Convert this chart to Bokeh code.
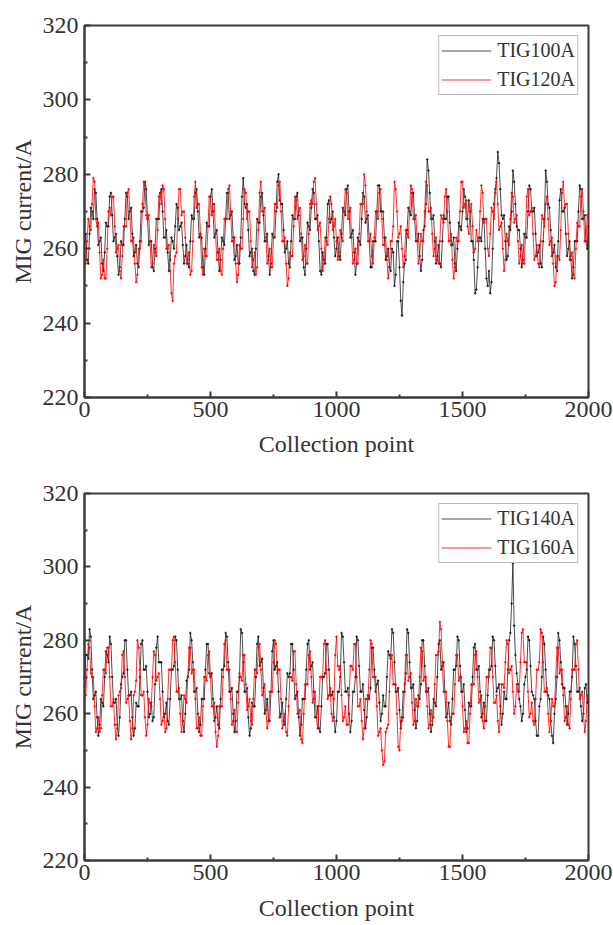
from bokeh.plotting import figure
from bokeh.layouts import column
from bokeh.models import Range1d, FixedTicker
from bokeh.embed import file_html
from bokeh.resources import INLINE

STEP = 5  # collection-point spacing of the values

x_ticks = [0, 500, 1000, 1500, 2000]
x_minor = [250, 750, 1250, 1750]
y_ticks = [220, 240, 260, 280, 300, 320]
y_minor = [230, 250, 270, 290, 310]

top_names = ["TIG100A", "TIG120A"]
bottom_names = ["TIG140A", "TIG160A"]

tig100 = [
    262, 264, 257, 256, 264, 271, 270, 268, 276, 275, 268, 261, 262, 263, 256, 254, 259, 267, 266, 266,
    274, 275, 269, 262, 263, 264, 258, 253, 255, 262, 261, 261, 268, 275, 274, 268, 270, 271, 264, 258,
    259, 261, 256, 255, 262, 270, 270, 271, 278, 276, 268, 261, 262, 262, 255, 254, 260, 268, 268, 268,
    275, 276, 270, 263, 263, 265, 259, 254, 257, 263, 262, 260, 266, 272, 271, 265, 266, 267, 261, 256,
    258, 261, 256, 255, 262, 269, 268, 268, 275, 276, 270, 263, 264, 263, 255, 253, 260, 267, 266, 266,
    274, 276, 270, 263, 264, 265, 259, 254, 257, 263, 262, 261, 268, 275, 275, 268, 269, 270, 263, 257,
    258, 261, 256, 256, 263, 274, 279, 272, 271, 272, 265, 258, 259, 260, 254, 253, 260, 268, 267, 267,
    274, 275, 269, 262, 262, 264, 258, 253, 256, 264, 263, 263, 270, 278, 280, 273, 272, 272, 265, 259,
    260, 262, 256, 255, 262, 269, 268, 268, 274, 275, 269, 262, 263, 263, 255, 253, 260, 267, 266, 265,
    271, 276, 275, 268, 268, 269, 262, 254, 253, 259, 257, 256, 263, 272, 273, 267, 268, 270, 263, 258,
    260, 263, 258, 257, 264, 271, 270, 269, 276, 277, 270, 263, 264, 265, 259, 253, 256, 263, 262, 261,
    268, 275, 274, 267, 268, 269, 262, 255, 255, 262, 262, 262, 270, 277, 277, 270, 270, 270, 263, 257,
    258, 260, 255, 254, 260, 259, 250, 253, 262, 262, 255, 246, 242, 251, 256, 257, 265, 271, 270, 269,
    275, 275, 268, 262, 262, 264, 258, 254, 257, 265, 266, 272, 284, 281, 275, 268, 268, 269, 262, 256,
    258, 261, 256, 255, 262, 269, 268, 268, 274, 274, 267, 261, 261, 263, 256, 254, 260, 267, 266, 265,
    270, 276, 274, 268, 268, 273, 270, 262, 262, 257, 248, 249, 255, 263, 263, 262, 268, 268, 260, 252,
    250, 254, 248, 251, 260, 272, 276, 279, 286, 283, 276, 269, 268, 269, 262, 257, 258, 266, 265, 270,
    281, 278, 272, 266, 265, 265, 260, 255, 257, 264, 263, 263, 270, 277, 276, 270, 270, 271, 264, 258,
    259, 261, 256, 255, 262, 268, 281, 278, 272, 271, 265, 258, 259, 261, 255, 254, 262, 273, 276, 270,
    270, 271, 264, 258, 260, 262, 257, 252, 255, 262, 262, 262, 270, 277, 276, 268, 268, 269, 262, 260,
    266,
]

tig120 = [
    258, 256, 262, 268, 266, 265, 272, 279, 278, 268, 266, 267, 259, 252, 253, 257, 252, 252, 260, 270,
    271, 269, 274, 274, 266, 259, 260, 261, 254, 252, 258, 266, 266, 266, 275, 276, 270, 262, 262, 263,
    256, 251, 253, 260, 260, 262, 272, 278, 277, 269, 268, 269, 262, 255, 256, 261, 259, 258, 265, 274,
    275, 272, 277, 276, 268, 260, 260, 261, 254, 248, 246, 256, 258, 259, 268, 276, 276, 269, 270, 270,
    263, 256, 257, 259, 253, 254, 262, 274, 278, 271, 272, 272, 264, 255, 253, 260, 258, 258, 266, 274,
    274, 269, 272, 272, 264, 257, 257, 260, 254, 253, 260, 268, 268, 268, 276, 277, 270, 262, 262, 263,
    256, 251, 253, 261, 260, 260, 268, 276, 275, 268, 270, 270, 262, 255, 257, 259, 253, 255, 265, 275,
    278, 270, 270, 271, 263, 256, 257, 260, 255, 255, 263, 272, 272, 271, 277, 278, 270, 262, 262, 263,
    256, 250, 252, 259, 258, 258, 266, 274, 273, 268, 270, 271, 264, 257, 258, 261, 256, 256, 264, 272,
    273, 272, 278, 279, 272, 265, 266, 267, 260, 254, 256, 263, 262, 261, 268, 274, 272, 265, 266, 268,
    262, 257, 259, 265, 263, 262, 270, 276, 275, 268, 270, 271, 263, 256, 257, 260, 256, 256, 264, 272,
    272, 272, 280, 277, 270, 262, 262, 264, 258, 256, 263, 270, 270, 268, 275, 276, 268, 261, 261, 263,
    257, 252, 255, 262, 262, 266, 278, 276, 270, 263, 264, 266, 260, 255, 258, 265, 264, 263, 270, 277,
    276, 268, 268, 269, 262, 256, 258, 264, 262, 262, 270, 278, 277, 270, 270, 271, 264, 258, 260, 263,
    257, 256, 262, 269, 268, 267, 274, 276, 270, 262, 262, 264, 257, 252, 255, 263, 262, 262, 270, 278,
    278, 271, 272, 273, 266, 264, 270, 272, 266, 259, 260, 265, 262, 262, 270, 277, 275, 267, 268, 268,
    260, 258, 264, 271, 270, 268, 275, 278, 272, 265, 266, 267, 260, 254, 257, 264, 262, 261, 268, 275,
    274, 267, 268, 269, 262, 256, 258, 261, 256, 256, 264, 274, 276, 269, 270, 271, 264, 257, 258, 261,
    256, 255, 262, 269, 268, 266, 272, 274, 268, 261, 262, 263, 256, 250, 251, 258, 258, 257, 265, 275,
    278, 271, 272, 272, 264, 257, 258, 259, 253, 252, 260, 267, 266, 266, 274, 276, 270, 262, 262, 269,
    268,
]

tig140 = [
    268, 276, 276, 275, 283, 281, 272, 264, 265, 266, 259, 254, 257, 264, 263, 262, 270, 277, 276, 274,
    281, 279, 270, 263, 263, 264, 257, 254, 259, 268, 270, 271, 280, 280, 272, 265, 265, 266, 259, 254,
    256, 263, 262, 262, 270, 279, 280, 272, 272, 273, 266, 259, 260, 263, 258, 259, 268, 278, 281, 274,
    274, 274, 266, 259, 260, 263, 258, 257, 264, 272, 272, 273, 281, 280, 272, 264, 264, 265, 258, 255,
    260, 269, 270, 272, 282, 280, 274, 266, 266, 267, 260, 255, 257, 264, 264, 264, 272, 279, 279, 271,
    270, 271, 264, 258, 259, 262, 257, 256, 264, 272, 272, 273, 282, 281, 274, 266, 266, 267, 260, 255,
    258, 266, 266, 270, 283, 282, 274, 266, 266, 267, 259, 254, 256, 263, 262, 262, 270, 279, 281, 273,
    274, 275, 267, 260, 261, 264, 258, 258, 266, 277, 280, 272, 273, 274, 266, 259, 260, 263, 258, 257,
    264, 271, 270, 271, 279, 279, 272, 264, 265, 266, 259, 254, 257, 264, 264, 264, 272, 279, 280, 272,
    273, 274, 266, 259, 259, 262, 256, 255, 262, 270, 270, 271, 279, 279, 272, 265, 265, 266, 259, 255,
    258, 266, 266, 270, 282, 281, 274, 266, 266, 267, 260, 255, 258, 266, 266, 270, 281, 280, 273, 266,
    266, 268, 261, 256, 259, 265, 264, 267, 278, 278, 272, 266, 268, 269, 263, 258, 260, 265, 262, 262,
    270, 277, 276, 275, 283, 282, 274, 266, 266, 267, 261, 256, 259, 266, 266, 271, 283, 282, 274, 267,
    267, 268, 261, 256, 258, 265, 264, 268, 280, 280, 273, 266, 266, 267, 260, 255, 257, 264, 263, 262,
    270, 279, 280, 272, 273, 274, 266, 259, 260, 263, 258, 257, 264, 272, 272, 273, 281, 280, 273, 266,
    266, 268, 261, 255, 256, 263, 262, 262, 270, 278, 279, 272, 272, 273, 266, 259, 260, 263, 258, 258,
    265, 272, 272, 273, 281, 280, 273, 266, 267, 268, 262, 257, 260, 266, 264, 264, 272, 280, 282, 290,
    301, 284, 276, 271, 268, 264, 262, 258, 260, 268, 270, 272, 281, 280, 273, 266, 265, 264, 258, 254,
    254, 262, 264, 270, 281, 279, 272, 266, 265, 264, 258, 254, 252, 260, 264, 270, 282, 280, 274, 268,
    267, 267, 262, 257, 260, 266, 266, 270, 281, 279, 273, 266, 266, 267, 262, 258, 260, 267, 268, 263,
    264,
]

tig160 = [
    265, 265, 272, 279, 278, 271, 270, 270, 262, 255, 256, 259, 255, 256, 265, 272, 272, 271, 278, 278,
    270, 262, 262, 264, 257, 253, 256, 265, 266, 267, 276, 277, 270, 263, 264, 265, 258, 253, 256, 265,
    266, 269, 280, 278, 272, 265, 265, 266, 259, 254, 257, 264, 263, 262, 270, 277, 276, 269, 270, 271,
    264, 257, 258, 260, 255, 256, 264, 272, 272, 272, 280, 281, 274, 266, 266, 267, 260, 255, 258, 265,
    264, 263, 270, 278, 278, 271, 272, 272, 264, 256, 256, 259, 254, 254, 262, 270, 270, 269, 276, 277,
    270, 262, 262, 263, 255, 251, 254, 262, 262, 262, 270, 279, 280, 272, 272, 272, 264, 257, 258, 261,
    255, 255, 263, 271, 270, 269, 276, 276, 268, 261, 262, 264, 258, 257, 264, 272, 272, 271, 278, 279,
    272, 265, 266, 268, 261, 256, 258, 266, 266, 266, 274, 280, 279, 271, 272, 272, 264, 256, 257, 260,
    255, 254, 262, 270, 270, 269, 277, 277, 268, 260, 260, 261, 253, 252, 260, 268, 268, 268, 276, 277,
    270, 263, 264, 266, 259, 256, 262, 270, 270, 270, 279, 280, 272, 264, 265, 267, 260, 258, 264, 276,
    281, 273, 272, 273, 265, 258, 259, 262, 257, 257, 265, 273, 273, 272, 279, 279, 270, 262, 262, 264,
    258, 253, 256, 264, 264, 264, 272, 280, 279, 270, 270, 270, 262, 254, 255, 256, 250, 246, 247, 255,
    256, 257, 266, 275, 276, 268, 268, 268, 260, 251, 250, 258, 258, 259, 268, 276, 276, 269, 270, 271,
    263, 257, 258, 264, 262, 262, 270, 278, 277, 269, 270, 270, 262, 256, 257, 261, 258, 259, 268, 276,
    276, 277, 285, 283, 274, 266, 266, 266, 258, 251, 251, 259, 260, 260, 268, 276, 276, 269, 270, 270,
    262, 255, 256, 258, 252, 252, 260, 268, 268, 268, 276, 277, 270, 263, 264, 265, 258, 256, 262, 270,
    270, 270, 278, 278, 270, 263, 263, 265, 258, 255, 260, 268, 268, 267, 274, 280, 279, 271, 272, 273,
    266, 260, 262, 268, 266, 266, 274, 282, 283, 274, 274, 274, 266, 259, 260, 263, 258, 257, 264, 272,
    272, 274, 283, 282, 274, 266, 266, 267, 260, 255, 258, 264, 262, 262, 270, 278, 278, 271, 272, 272,
    265, 258, 259, 262, 257, 256, 264, 272, 272, 272, 279, 280, 272, 264, 265, 266, 260, 255, 258, 265,
    264,
]

FONT = "Liberation Serif"
AXC = "#3a3a3a"


def panel(names, series, height, b_top, b_bottom, b_left, b_right, xlab_gap):
    p = figure(width=613, height=height,
               x_range=Range1d(0, 2000), y_range=Range1d(220, 320),
               output_backend="svg", toolbar_location=None,
               min_border_top=b_top, min_border_bottom=b_bottom,
               min_border_left=b_left, min_border_right=b_right)
    styles = [("#111111", 0.75), ("#ff0000", 0.8)]
    for name, vals, (c, a) in zip(names, series, styles):
        xs = [i * STEP for i in range(len(vals))]
        p.line(xs, vals, line_color=c, line_width=1, line_alpha=a,
               legend_label=name)
        p.scatter(xs, vals, size=1.6, color=c, alpha=a)
    p.xgrid.visible = False
    p.ygrid.visible = False
    p.outline_line_color = AXC
    p.outline_line_width = 2
    p.xaxis.ticker = FixedTicker(ticks=x_ticks, minor_ticks=x_minor)
    p.yaxis.ticker = FixedTicker(ticks=y_ticks, minor_ticks=y_minor)
    p.xaxis.axis_label = "Collection point"
    p.yaxis.axis_label = "MIG current/A"
    for ax in (p.xaxis, p.yaxis):
        ax.axis_line_color = AXC
        ax.axis_line_width = 2
        ax.major_tick_line_color = AXC
        ax.minor_tick_line_color = AXC
        ax.major_tick_line_width = 2
        ax.minor_tick_line_width = 2
        ax.major_tick_in = 6
        ax.major_tick_out = 0
        ax.minor_tick_in = 3
        ax.minor_tick_out = 0
        ax.major_label_text_font = FONT
        ax.major_label_text_font_size = "24px"
        ax.major_label_text_color = "#333333"
        ax.axis_label_text_font = FONT
        ax.axis_label_text_font_size = "24px"
        ax.axis_label_text_font_style = "normal"
        ax.axis_label_text_color = "#333333"
    p.xaxis.major_label_standoff = 4
    p.xaxis.axis_label_standoff = xlab_gap
    p.yaxis.major_label_standoff = 6
    p.yaxis.axis_label_standoff = 4
    lg = p.legend[0]
    lg.location = "top_right"
    lg.margin = 10
    lg.padding = 2
    lg.spacing = 4
    lg.glyph_width = 50
    lg.glyph_height = 25
    lg.label_height = 25
    lg.label_standoff = 6
    lg.label_text_font = FONT
    lg.label_text_font_size = "20px"
    lg.label_text_color = "#333333"
    lg.border_line_color = "#777777"
    lg.border_line_width = 1
    lg.background_fill_alpha = 1.0
    return p


p1 = panel(top_names, [tig100, tig120], 468, 25, 71, 84, 25, 11)
p2 = panel(bottom_names, [tig140, tig160], 455, 25, 57, 84, 25, 12)

layout = column(p1, p2, spacing=0)
open("out.html", "w").write(file_html(layout, INLINE))
